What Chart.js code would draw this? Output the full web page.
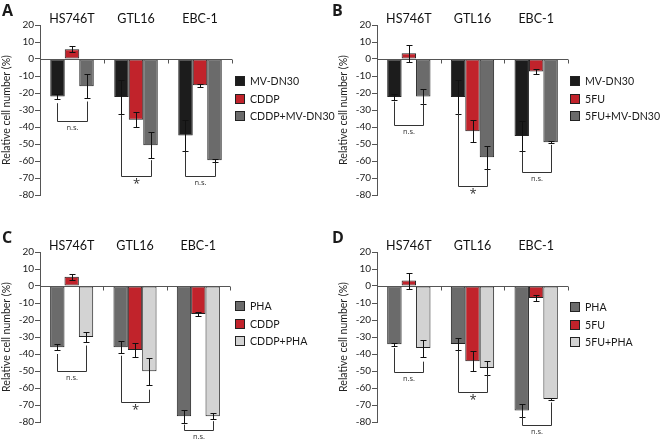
<!DOCTYPE html>
<html>
<head>
<meta charset="utf-8">
<script src="https://cdn.jsdelivr.net/npm/chart.js@4.4.0/dist/chart.umd.min.js"></script>
<style>
  body { margin: 0; width: 660px; height: 439px; overflow: hidden; background: #fff; position: relative; font-family: Lato, sans-serif; color: #1a1a1a; }
  .panel { position: absolute; width: 330px; height: 219px; }
  .panel canvas { position: absolute; left: 0; top: 0; }
  .letter { position: absolute; left: 2px; top: -1px; font-family: "Open Sans", sans-serif; font-weight: bold; font-size: 16px; }
  .leg { position: absolute; font-size: 10.6px; white-space: nowrap; line-height: 12px; }
  .leg i { display: inline-block; width: 8px; height: 8px; border: 1px solid #222; vertical-align: -1px; margin-right: 5px; }
</style>
</head>
<body>
<script>
const cellLines = ["HS746T", "GTL16", "EBC-1"];
const yTicks = [20, 10, 0, -10, -20, -30, -40, -50, -60, -70, -80];

// A: MV-DN30 / CDDP
const labelsA = ["MV-DN30", "CDDP", "CDDP+MV-DN30"];
const mvA = [-22, -22.3, -45];
const mvErrA = [1.6, 10, 9];
const cddpA = [5.8, -35.7, -15.5];
const cddpErrA = [1.7, 4.3, 0.9];
const comboA = [-16, -50.8, -59.6];
const comboErrA = [7, 7.7, 0.8];
const brLeftA = [-26, -33, -54.5];
const brRightA = [-25, -59.5, -61];
const brBottomA = [-36.7, -69, -69];
const brMarkA = ["n.s.", "*", "n.s."];

// B: MV-DN30 / 5FU
const labelsB = ["MV-DN30", "5FU", "5FU+MV-DN30"];
const mvB = [-22.4, -22.4, -45.3];
const mvErrB = [1.7, 10, 9];
const fuB = [3.4, -42.5, -7.3];
const fuErrB = [5, 6.4, 1.7];
const comboB = [-22, -57.8, -49];
const comboErrB = [4.4, 6.7, 0.5];
const brLeftB = [-25, -32, -54.5];
const brRightB = [-26, -65, -50.5];
const brBottomB = [-38.6, -74.5, -66.5];
const brMarkB = ["n.s.", "*", "n.s."];

// C: PHA / CDDP
const labelsC = ["PHA", "CDDP", "CDDP+PHA"];
const phaC = [-36, -36, -76.6];
const phaErrC = [1.6, 3.5, 3.7];
const cddpC = [5.5, -37.7, -16.5];
const cddpErrC = [1.7, 4.3, 1.2];
const comboC = [-30, -50.1, -76.6];
const comboErrC = [3, 7.9, 1.7];
const brLeftC = [-40, -41, -81.5];
const brRightC = [-35, -61, -79.5];
const brBottomC = [-50, -68, -84.5];
const brMarkC = ["n.s.", "*", "n.s."];

// D: PHA / 5FU
const labelsD = ["PHA", "5FU", "5FU+PHA"];
const phaD = [-34.3, -34.1, -73.2];
const phaErrD = [1, 3.4, 3.6];
const fuD = [3.2, -44.2, -7.1];
const fuErrD = [4.7, 5.9, 1.7];
const comboD = [-36.5, -48.3, -66.5];
const comboErrD = [5, 4, 0.4];
const brLeftD = [-36.5, -38, -77];
const brRightD = [-44.5, -52, -68.5];
const brBottomD = [-50.7, -62.5, -81.7];
const brMarkD = ["n.s.", "*", "n.s."];

const BLACK = "#1c1c1c", RED = "#c1232b", GREY = "#6b6b6b", LIGHT = "#d3d3d3";

const panels = [
  { letter: "A", left: 0, top: 0, padL: 0, padR: 98, legX: 235, legY: 81,
    labels: labelsA, values: [mvA, cddpA, comboA], errors: [mvErrA, cddpErrA, comboErrA],
    colors: [BLACK, RED, GREY], br: { left: brLeftA, right: brRightA, bottom: brBottomA, mark: brMarkA } },
  { letter: "B", left: 330, top: 0, padL: 7, padR: 92, legX: 240, legY: 81,
    labels: labelsB, values: [mvB, fuB, comboB], errors: [mvErrB, fuErrB, comboErrB],
    colors: [BLACK, RED, GREY], br: { left: brLeftB, right: brRightB, bottom: brBottomB, mark: brMarkB } },
  { letter: "C", left: 0, top: 227, padL: 0, padR: 100, legX: 235, legY: 79,
    labels: labelsC, values: [phaC, cddpC, comboC], errors: [phaErrC, cddpErrC, comboErrC],
    colors: [GREY, RED, LIGHT], br: { left: brLeftC, right: brRightC, bottom: brBottomC, mark: brMarkC } },
  { letter: "D", left: 330, top: 227, padL: 7, padR: 92, legX: 240, legY: 80,
    labels: labelsD, values: [phaD, fuD, comboD], errors: [phaErrD, fuErrD, comboErrD],
    colors: [GREY, RED, LIGHT], br: { left: brLeftD, right: brRightD, bottom: brBottomD, mark: brMarkD } },
];

// zero line, error bars and significance brackets
const extras = {
  id: "extras",
  afterDatasetsDraw(chart, args, opts) {
    const { ctx, chartArea, scales: { x, y } } = chart;
    ctx.save();
    ctx.lineWidth = 1;
    const y0 = Math.round(y.getPixelForValue(0)) + 0.5;
    const step = x.getPixelForValue(1) - x.getPixelForValue(0);
    ctx.strokeStyle = "#555";
    ctx.beginPath();
    ctx.moveTo(chartArea.left, y0);
    ctx.lineTo(chartArea.right, y0);
    chart.data.labels.forEach((l, j) => {
      const bx = Math.round(x.getPixelForValue(j) + step / 2) + 0.5;
      ctx.moveTo(bx, y0);
      ctx.lineTo(bx, y0 + 4);
    });
    ctx.stroke();

    ctx.strokeStyle = "#111";
    chart.data.datasets.forEach((ds, i) => {
      chart.getDatasetMeta(i).data.forEach((bar, j) => {
        const v = ds.data[j], e = opts.errors[i][j];
        const cx = Math.round(bar.x) + 0.5;
        const t = Math.round(y.getPixelForValue(v + e)) + 0.5;
        const b = Math.round(y.getPixelForValue(v - e)) + 0.5;
        ctx.beginPath();
        ctx.moveTo(cx, t); ctx.lineTo(cx, b);
        ctx.moveTo(cx - 3, t); ctx.lineTo(cx + 3, t);
        ctx.moveTo(cx - 3, b); ctx.lineTo(cx + 3, b);
        ctx.stroke();
      });
    });

    const br = opts.brackets;
    ctx.strokeStyle = "#333";
    ctx.fillStyle = "#333";
    ctx.textAlign = "center";
    ctx.textBaseline = "top";
    br.mark.forEach((m, j) => {
      const xl = Math.round(chart.getDatasetMeta(0).data[j].x) + 0.5;
      const xr = Math.round(chart.getDatasetMeta(2).data[j].x) + 0.5;
      const yb = Math.round(y.getPixelForValue(br.bottom[j])) + 0.5;
      ctx.beginPath();
      ctx.moveTo(xl, y.getPixelForValue(br.left[j]));
      ctx.lineTo(xl, yb);
      ctx.lineTo(xr, yb);
      ctx.lineTo(xr, y.getPixelForValue(br.right[j]));
      ctx.stroke();
      if (m === "*") {
        ctx.font = '13px "Open Sans"';
        ctx.fillText(m, (xl + xr) / 2, yb + 1);
      } else {
        ctx.font = '7.5px "Open Sans"';
        ctx.fillText(m, (xl + xr) / 2, yb + 3);
      }
    });
    ctx.restore();
  }
};

panels.forEach(p => {
  const div = document.createElement("div");
  div.className = "panel";
  div.style.left = p.left + "px";
  div.style.top = p.top + "px";
  const canvas = document.createElement("canvas");
  canvas.width = 330;
  canvas.height = 219;
  div.appendChild(canvas);
  const letter = document.createElement("div");
  letter.className = "letter";
  letter.textContent = p.letter;
  div.appendChild(letter);
  p.labels.forEach((lab, i) => {
    const item = document.createElement("div");
    item.className = "leg";
    item.style.left = p.legX + "px";
    item.style.top = (p.legY + i * 17.5 - 6) + "px";
    item.innerHTML = '<i style="background:' + p.colors[i] + '"></i>' + lab;
    div.appendChild(item);
  });
  document.body.appendChild(div);

  new Chart(canvas, {
    type: "bar",
    data: {
      labels: cellLines,
      datasets: p.labels.map((lab, i) => ({
        label: lab,
        data: p.values[i],
        backgroundColor: p.colors[i],
        borderColor: "#222",
        borderWidth: 1,
        borderSkipped: false,
        categoryPercentage: 0.68,
        barPercentage: 1.0,
      })),
    },
    options: {
      responsive: false,
      animation: false,
      layout: { padding: { left: p.padL, right: p.padR, top: 0, bottom: 24 } },
      plugins: {
        legend: { display: false },
        tooltip: { enabled: false },
        extras: { errors: p.errors, brackets: p.br },
      },
      scales: {
        x: {
          position: "top",
          grid: { display: false, drawTicks: false },
          border: { display: false },
          ticks: { color: "#111", font: { family: "Lato", size: 12.5 }, padding: -1 },
          afterFit: s => { s.height = 25; },
        },
        y: {
          min: -80,
          max: 20,
          afterBuildTicks: s => { s.ticks = yTicks.map(v => ({ value: v })); },
          grid: { drawOnChartArea: false, color: "#555", tickLength: 5 },
          border: { color: "#555" },
          ticks: { color: "#222", font: { family: "Lato", size: 10 }, padding: 1 },
          title: { display: true, text: "Relative cell number (%)", color: "#222", font: { family: "Lato", size: 10.5 }, padding: 0 },
          afterFit: s => { s.width = 40; },
        },
      },
    },
    plugins: [extras],
  });
});
</script>
</body>
</html>
